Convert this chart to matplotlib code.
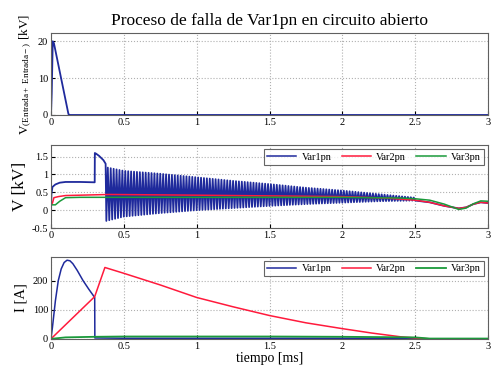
import numpy as np
import matplotlib
matplotlib.use("Agg")
import matplotlib.pyplot as plt

plt.rcParams['font.family'] = ['Liberation Serif', 'DejaVu Serif']
plt.rcParams['mathtext.fontset'] = 'custom'
plt.rcParams['mathtext.rm'] = 'Liberation Serif'
plt.rcParams['mathtext.it'] = 'Liberation Serif:italic'

BLUE = '#1f2a9c'
RED = '#ff1a3c'
GREEN = '#1a9a3a'

# ---- top panel: input voltage (kV) ----
vin_t = [0.0, 0.005, 0.012, 0.02, 0.12, 0.13, 3.0]
vin_v = [0.0, 6.0, 20.0, 19.5, 0.2, 0.0, 0.0]

# ---- middle panel: voltages (kV) ----
v1_pre_t = [0.0, 0.003, 0.01, 0.03, 0.06, 0.1, 0.2, 0.3, 0.301, 0.31, 0.33, 0.36, 0.375]
v1_pre_v = [0.0, 0.45, 0.65, 0.72, 0.77, 0.79, 0.79, 0.78, 1.6, 1.58, 1.52, 1.4, 1.3]
# oscillation envelope of Var1pn
osc_t = [0.38, 0.5, 0.75, 1.0, 1.25, 1.5, 1.75, 2.0, 2.25, 2.5]
osc_upper = [1.2, 1.1, 1.02, 0.92, 0.82, 0.73, 0.63, 0.55, 0.45, 0.35]
osc_lower = [-0.3, -0.18, -0.08, 0.0, 0.06, 0.12, 0.17, 0.21, 0.25, 0.27]
osc_period = 0.02
v1_post_t = [2.52, 2.6, 2.7, 2.8, 2.85, 2.9, 2.95, 3.0]
v1_post_v = [0.26, 0.22, 0.12, 0.05, 0.08, 0.17, 0.22, 0.2]

v2_t = [0.0, 0.01, 0.02, 0.05, 0.1, 0.4, 1.0, 1.5, 2.0, 2.3, 2.5, 2.6, 2.7, 2.8, 2.85, 2.9, 2.95, 3.0]
v2_v = [0.15, 0.2, 0.35, 0.38, 0.41, 0.44, 0.42, 0.4, 0.38, 0.34, 0.28, 0.22, 0.12, 0.05, 0.08, 0.17, 0.22, 0.2]

v3_t = [0.0, 0.03, 0.06, 0.1, 0.2, 1.0, 2.0, 2.4, 2.5, 2.6, 2.7, 2.8, 2.85, 2.9, 2.95, 3.0]
v3_v = [0.15, 0.15, 0.25, 0.35, 0.36, 0.36, 0.36, 0.34, 0.32, 0.28, 0.17, 0.02, 0.06, 0.18, 0.26, 0.25]

# ---- bottom panel: currents (A) ----
i1_t = [0.0, 0.01, 0.03, 0.05, 0.07, 0.09, 0.11, 0.13, 0.15, 0.18, 0.22, 0.26, 0.3, 0.301,
        0.5, 1.0, 2.0, 2.5, 2.55, 3.0]
i1_v = [0.0, 40.0, 130.0, 200.0, 240.0, 262.0, 270.0, 268.0, 258.0, 235.0, 200.0, 170.0, 142.0, 3.0,
        2.0, 2.0, 2.0, 2.0, 0.0, 0.0]

i2_t = [0.0, 0.3, 0.37, 0.5, 0.75, 1.0, 1.25, 1.5, 1.75, 2.0, 2.2, 2.4, 2.5, 2.6, 3.0]
i2_v = [0.0, 145.0, 245.0, 225.0, 185.0, 142.0, 110.0, 80.0, 55.0, 35.0, 20.0, 7.0, 3.0, 0.0, 0.0]

i3_t = [0.0, 0.1, 0.3, 0.5, 1.0, 1.5, 2.0, 2.5, 2.6, 3.0]
i3_v = [0.0, 5.0, 7.0, 8.0, 8.0, 8.0, 7.0, 5.0, 1.0, 1.0]

xticks = [0, 0.5, 1, 1.5, 2, 2.5, 3]
xticklabels = ['0', '0.5', '1', '1.5', '2', '2.5', '3']

fig = plt.figure(figsize=(5.0, 3.82), dpi=100)
ax1 = fig.add_axes([0.102, 0.699, 0.874, 0.215])
ax2 = fig.add_axes([0.102, 0.403, 0.874, 0.217])
ax3 = fig.add_axes([0.102, 0.113, 0.874, 0.215])

def style(ax):
    ax.set_xlim(0, 3)
    ax.set_xticks(xticks)
    ax.set_xticklabels(xticklabels)
    ax.grid(True, linestyle=':', color='#b0b0b0', linewidth=0.8)
    ax.tick_params(direction='in', labelsize=7.5, length=3, pad=2)
    for s in ax.spines.values():
        s.set_color('#606060')
        s.set_linewidth(0.8)

# top
ax1.plot(vin_t, vin_v, color=BLUE, lw=1.3)
ax1.set_ylim(0, 22.3)
ax1.set_yticks([0, 10, 20])
style(ax1)
ax1.set_title('Proceso de falla de Var1pn en circuito abierto', fontsize=12.5, pad=6)
ax1.set_ylabel(r'V$_{\mathrm{(Entrada+\ Entrada-)}}$ [kV]', fontsize=9.5, labelpad=3)

# middle: build Var1pn oscillation from envelope
n_half = int((osc_t[-1] - osc_t[0]) / (osc_period / 2))
zz_t = osc_t[0] + np.arange(n_half + 1) * osc_period / 2
up = np.interp(zz_t, osc_t, osc_upper)
lo = np.interp(zz_t, osc_t, osc_lower)
zz_v = np.where(np.arange(n_half + 1) % 2 == 1, up, lo)
v1_t_all = np.concatenate([v1_pre_t, zz_t, v1_post_t])
v1_v_all = np.concatenate([v1_pre_v, zz_v, v1_post_v])

ax2.plot(v1_t_all, v1_v_all, color=BLUE, lw=1.3, label='Var1pn')
ax2.plot(v2_t, v2_v, color=RED, lw=1.1, label='Var2pn')
ax2.plot(v3_t, v3_v, color=GREEN, lw=1.1, label='Var3pn')
ax2.set_ylim(-0.5, 1.82)
ax2.set_yticks([-0.5, 0, 0.5, 1, 1.5])
ax2.set_yticklabels(['-0.5', '0', '0.5', '1', '1.5'])
style(ax2)
ax2.set_ylabel('V [kV]', fontsize=12.5, labelpad=3)
leg = ax2.legend(loc='upper right', ncol=3, fontsize=7.5, frameon=True, fancybox=False,
                 borderpad=0.3, handlelength=2.8, columnspacing=1.0, handletextpad=0.5,
                 borderaxespad=0.4)
leg.get_legend_handles = None
for h in leg.get_lines():
    h.set_linewidth(1.1)
leg.get_frame().set_edgecolor('#404040')
leg.get_frame().set_linewidth(0.8)

# bottom
ax3.plot(i1_t, i1_v, color=BLUE, lw=1.1, label='Var1pn')
ax3.plot(i2_t, i2_v, color=RED, lw=1.1, label='Var2pn')
ax3.plot(i3_t, i3_v, color=GREEN, lw=1.3, label='Var3pn')
ax3.set_ylim(0, 282)
ax3.set_yticks([0, 100, 200])
style(ax3)
ax3.set_ylabel('I [A]', fontsize=10.5, labelpad=4)
ax3.set_xlabel('tiempo [ms]', fontsize=10, labelpad=1)
leg = ax3.legend(loc='upper right', ncol=3, fontsize=7.5, frameon=True, fancybox=False,
                 borderpad=0.3, handlelength=2.8, columnspacing=1.0, handletextpad=0.5,
                 borderaxespad=0.4)
leg.get_frame().set_edgecolor('#404040')
leg.get_frame().set_linewidth(0.8)

fig.savefig('out.png', dpi=100)
